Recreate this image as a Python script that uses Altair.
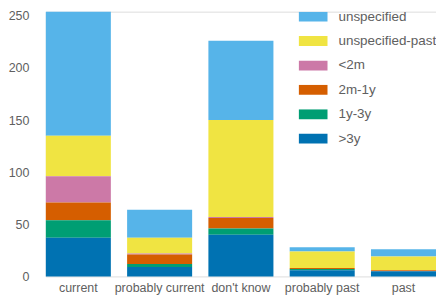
import altair as alt
import pandas as pd

categories = ["current", "probably current", "don't know", "probably past", "past"]
groups = ["unspecified", "unspecified-past", "<2m", "2m-1y", "1y-3y", ">3y"]
colors = ["#56B4E9", "#F0E442", "#CC79A7", "#D55E00", "#009E73", "#0072B2"]

gt3y = [37, 9, 40, 6, 5]
y1_3y = [17, 3, 6, 1, 0]
m2_1y = [17, 9, 10, 1, 1]
lt2m = [25, 1, 1, 0, 0]
unspec_past = [39, 15, 93, 16, 13]
unspec = [119, 27, 76, 4, 7]

series = {
    "unspecified": unspec,
    "unspecified-past": unspec_past,
    "<2m": lt2m,
    "2m-1y": m2_1y,
    "1y-3y": y1_3y,
    ">3y": gt3y,
}
stack_order = {">3y": 0, "1y-3y": 1, "2m-1y": 2, "<2m": 3, "unspecified-past": 4, "unspecified": 5}

rows = []
for g, vals in series.items():
    for c, v in zip(categories, vals):
        rows.append({"cat": c, "group": g, "value": v, "ord": stack_order[g]})
df = pd.DataFrame(rows)

FONT = "Liberation Sans"
GRAY = "#606060"

chart = alt.Chart(df).mark_bar(strokeWidth=0).encode(
    x=alt.X("cat:N", sort=categories, title=None,
            scale=alt.Scale(paddingInner=0.2, paddingOuter=0),
            axis=alt.Axis(labelAngle=0, ticks=False, domain=False, grid=False,
                          labelPadding=5, labelFontSize=12.5, labelColor=GRAY, labelFont=FONT)),
    y=alt.Y("sum(value):Q", title=None,
            scale=alt.Scale(domain=[0, 254], nice=False, zero=True),
            axis=alt.Axis(values=[0, 50, 100, 150, 200, 250], ticks=False, domain=False, grid=False,
                          labelPadding=17, labelFontSize=12.5, labelColor=GRAY, labelFont=FONT)),
    color=alt.Color("group:N", sort=groups,
                    scale=alt.Scale(domain=groups, range=colors),
                    legend=alt.Legend(title=None, orient="none", legendX=254, legendY=0,
                                      symbolType="M-1,-0.345H1V0.345H-1Z", symbolSize=841,
                                      symbolStrokeWidth=0, symbolOpacity=1,
                                      clipHeight=10, rowPadding=10.5, padding=0,
                                      labelOffset=11, labelFontSize=13.5, labelColor=GRAY,
                                      labelFont=FONT)),
    order=alt.Order("ord:Q", sort="ascending"),
).properties(
    width=392, height=266,
    autosize=alt.AutoSizeParams(type="none"),
    padding={"left": 38, "top": 3, "right": 0, "bottom": 20},
).configure_view(stroke=None).configure(background="white")

chart.save("out.html", embed_options={"renderer": "svg", "actions": False})
